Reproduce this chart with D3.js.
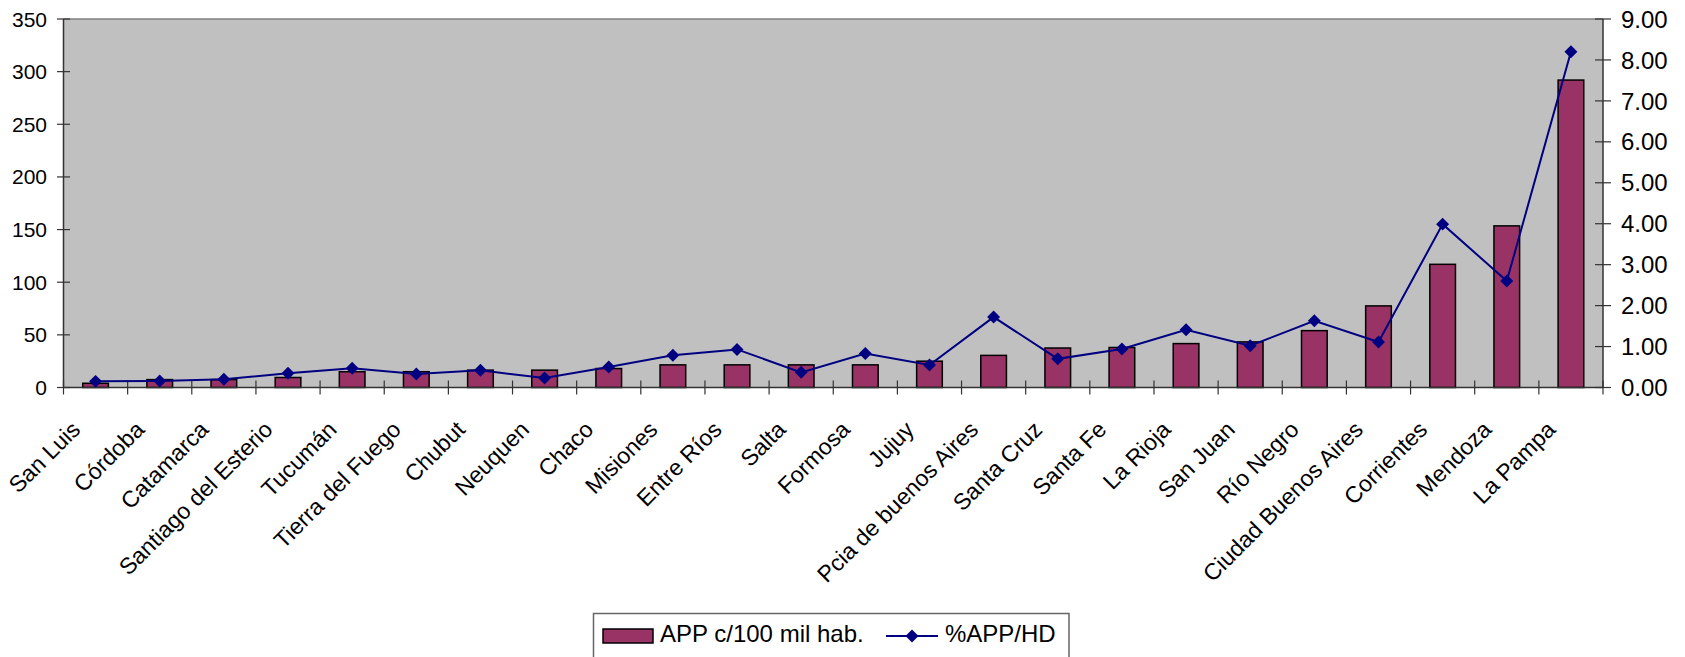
<!DOCTYPE html>
<html>
<head>
<meta charset="utf-8">
<script src="https://cdn.jsdelivr.net/npm/d3@7/dist/d3.min.js"></script>
<style>
  html, body { margin: 0; padding: 0; background: #fff; }
  svg { display: block; }
  text { font-family: "Liberation Sans", Arial, sans-serif; fill: #000; }
</style>
</head>
<body>
<svg id="chart" width="1685" height="657"></svg>
<script>
const categories = ["San Luis","Córdoba","Catamarca","Santiago del Esterio","Tucumán","Tierra del Fuego","Chubut","Neuquen","Chaco","Misiones","Entre Ríos","Salta","Formosa","Jujuy","Pcia de buenos Aires","Santa Cruz","Santa Fe","La Rioja","San Juan","Río Negro","Ciudad Buenos Aires","Corrientes","Mendoza","La Pampa"];
const appValues = [4, 7.5, 7.5, 9.5, 15, 15, 16.5, 16.5, 18, 21.5, 21.5, 21.5, 21.5, 25, 30.5, 37.5, 38, 41.7, 43.3, 54, 77.5, 117, 153.5, 292];
const pctValues = [0.15, 0.16, 0.2, 0.35, 0.47, 0.33, 0.42, 0.23, 0.5, 0.79, 0.93, 0.37, 0.83, 0.55, 1.72, 0.70, 0.94, 1.41, 1.02, 1.63, 1.11, 3.99, 2.60, 8.2];
const leftTicks = [0, 50, 100, 150, 200, 250, 300, 350];
const rightTicks = [0, 1, 2, 3, 4, 5, 6, 7, 8, 9];
const seriesNames = ["APP c/100 mil hab.", "%APP/HD"];

const svg = d3.select("#chart");
const L = 63.5, R = 1603, T = 19, B = 387.5;

const x = d3.scaleBand().domain(categories).range([L, R]).padding(0);
const yL = d3.scaleLinear().domain([0, 350]).range([B, T]);
const yR = d3.scaleLinear().domain([0, 9]).range([B, T]);

const barColor = "#993366";
const lineColor = "#000080";

// plot background
svg.append("rect").attr("x", L).attr("y", T).attr("width", R - L).attr("height", B - T)
  .attr("fill", "#c0c0c0");
svg.append("line").attr("x1", L).attr("x2", R).attr("y1", T).attr("y2", T)
  .attr("stroke", "#808080").attr("stroke-width", 1.5);

// bars
const bw = x.bandwidth();
svg.append("g").selectAll("rect").data(categories).join("rect")
  .attr("x", d => x(d) + bw * 0.3)
  .attr("width", bw * 0.4)
  .attr("y", (d, i) => yL(appValues[i]))
  .attr("height", (d, i) => B - yL(appValues[i]))
  .attr("fill", barColor).attr("stroke", "#000").attr("stroke-width", 1.5);

// axes lines
const axisColor = "#333";
svg.append("line").attr("x1", L).attr("x2", L).attr("y1", T).attr("y2", B).attr("stroke", axisColor).attr("stroke-width", 1.5);
svg.append("line").attr("x1", R).attr("x2", R).attr("y1", T).attr("y2", B).attr("stroke", axisColor).attr("stroke-width", 1.5);
svg.append("line").attr("x1", L).attr("x2", R).attr("y1", B).attr("y2", B).attr("stroke", axisColor).attr("stroke-width", 1.5);

// left ticks
const gl = svg.append("g");
leftTicks.forEach(v => {
  gl.append("line").attr("x1", L - 6.5).attr("x2", L + 6.5).attr("y1", yL(v)).attr("y2", yL(v))
    .attr("stroke", axisColor).attr("stroke-width", 1.2);
  gl.append("text").attr("x", 47).attr("y", yL(v)).attr("dy", "0.36em")
    .attr("text-anchor", "end").attr("font-size", 21).text(v);
});
// right ticks
const gr = svg.append("g");
rightTicks.forEach(v => {
  gr.append("line").attr("x1", R - 8).attr("x2", R + 8).attr("y1", yR(v)).attr("y2", yR(v))
    .attr("stroke", axisColor).attr("stroke-width", 1.2);
  gr.append("text").attr("x", 1621).attr("y", yR(v)).attr("dy", "0.36em")
    .attr("text-anchor", "start").attr("font-size", 24).text(d3.format(".2f")(v));
});
// bottom ticks at band boundaries
const gb = svg.append("g");
categories.forEach((c, i) => {
  gb.append("line").attr("x1", x(c)).attr("x2", x(c)).attr("y1", B - 7).attr("y2", B + 7)
    .attr("stroke", axisColor).attr("stroke-width", 1.2);
});
gb.append("line").attr("x1", R).attr("x2", R).attr("y1", B - 7).attr("y2", B + 7)
  .attr("stroke", axisColor).attr("stroke-width", 1.2);

// category labels
svg.append("g").selectAll("text").data(categories).join("text")
  .attr("transform", d => `translate(${x(d) + bw / 2 - 14},431) rotate(-45)`)
  .attr("text-anchor", "end").attr("font-size", 23).text(d => d);

// line series
const line = d3.line().x((d, i) => x(categories[i]) + bw / 2).y(d => yR(d));
svg.append("path").datum(pctValues).attr("d", line)
  .attr("fill", "none").attr("stroke", lineColor).attr("stroke-width", 2);
const diamond = d3.symbol().type(d3.symbolSquare).size(84);
svg.append("g").selectAll("path").data(pctValues).join("path")
  .attr("d", diamond)
  .attr("transform", (d, i) => `translate(${x(categories[i]) + bw / 2},${yR(d)}) rotate(45)`)
  .attr("fill", lineColor);

// legend
const lg = svg.append("g");
lg.append("rect").attr("x", 593.5).attr("y", 613.5).attr("width", 475.5).attr("height", 60)
  .attr("fill", "#fff").attr("stroke", "#666").attr("stroke-width", 1.5);
lg.append("rect").attr("x", 603).attr("y", 629).attr("width", 50).attr("height", 14)
  .attr("fill", barColor).attr("stroke", "#000").attr("stroke-width", 1.5);
lg.append("text").attr("x", 660).attr("y", 642).attr("font-size", 24).text(seriesNames[0]);
lg.append("line").attr("x1", 886).attr("x2", 938).attr("y1", 636).attr("y2", 636)
  .attr("stroke", lineColor).attr("stroke-width", 2);
lg.append("path").attr("d", diamond).attr("transform", "translate(912,636) rotate(45)").attr("fill", lineColor);
lg.append("text").attr("x", 945).attr("y", 642).attr("font-size", 24).text(seriesNames[1]);
</script>
</body>
</html>
